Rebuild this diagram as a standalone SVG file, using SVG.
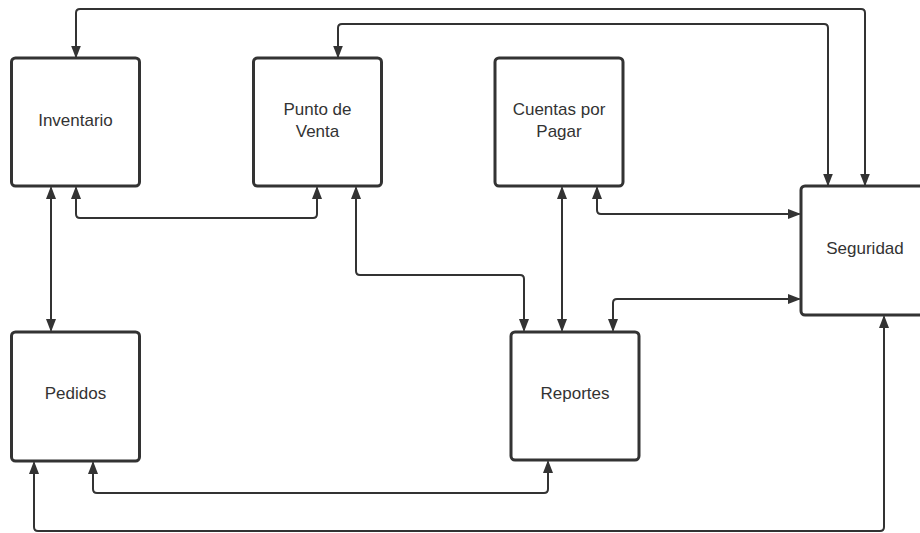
<svg xmlns="http://www.w3.org/2000/svg" width="920" height="533" viewBox="0 0 920 533">
  <defs>
    <style>
      .box { fill: #ffffff; stroke: #333333; stroke-width: 3; }
      .lbl { font-family: "Liberation Sans", Arial, sans-serif; font-size: 17px; fill: #333333; text-anchor: middle; }
      .wire { fill: none; stroke: #333333; stroke-width: 2; marker-start: url(#tip); marker-end: url(#tip); }
    </style>
    <marker id="tip" markerUnits="userSpaceOnUse" markerWidth="13" markerHeight="10" refX="11.5" refY="5" orient="auto-start-reverse" viewBox="0 0 13 10">
      <path d="M0,0 L13,5 L0,10 z" fill="#333333"/>
    </marker>
  </defs>
  <rect width="920" height="533" fill="#ffffff"/>

  <g id="connectors">
    <!-- Inventario <-> Seguridad (top loop) -->
    <path class="wire" d="M76,57 V13 Q76,9 80,9 H861 Q865,9 865,13 V185"/>
    <!-- Punto de Venta <-> Seguridad -->
    <path class="wire" d="M338,57 V28 Q338,24 342,24 H824 Q828,24 828,28 V185"/>
    <!-- Inventario <-> Punto de Venta -->
    <path class="wire" d="M76,187.5 V214 Q76,218 80,218 H313 Q317,218 317,214 V187.5"/>
    <!-- Inventario <-> Pedidos -->
    <path class="wire" d="M51,187.5 V330.5"/>
    <!-- Punto de Venta <-> Reportes -->
    <path class="wire" d="M356,187.5 V271 Q356,275 360,275 H520 Q524,275 524,279 V330.5"/>
    <!-- Cuentas por Pagar <-> Reportes -->
    <path class="wire" d="M562,187.5 V330.5"/>
    <!-- Cuentas por Pagar <-> Seguridad -->
    <path class="wire" d="M597,187.5 V210 Q597,214 601,214 H799.5"/>
    <!-- Reportes <-> Seguridad -->
    <path class="wire" d="M613,330.5 V303 Q613,299 617,299 H799.5"/>
    <!-- Pedidos <-> Reportes -->
    <path class="wire" d="M93,462.5 V489 Q93,493 97,493 H544 Q548,493 548,489 V461.5"/>
    <!-- Pedidos <-> Seguridad (bottom loop) -->
    <path class="wire" d="M34,462.5 V527 Q34,531 38,531 H880 Q884,531 884,527 V316.5"/>
  </g>

  <g id="inventario">
    <rect class="box" x="11.5" y="58" width="128" height="128" rx="4"/>
    <text class="lbl" x="75.5" y="126">Inventario</text>
  </g>
  <g id="punto-de-venta">
    <rect class="box" x="253.5" y="58" width="128" height="128" rx="4"/>
    <text class="lbl" x="317.5" y="115">Punto de</text>
    <text class="lbl" x="317.5" y="137">Venta</text>
  </g>
  <g id="cuentas-por-pagar">
    <rect class="box" x="495" y="58" width="128" height="128" rx="4"/>
    <text class="lbl" x="559" y="115">Cuentas por</text>
    <text class="lbl" x="559" y="137">Pagar</text>
  </g>
  <g id="seguridad">
    <rect class="box" x="801" y="186" width="128" height="129" rx="4"/>
    <text class="lbl" x="865" y="254">Seguridad</text>
  </g>
  <g id="pedidos">
    <rect class="box" x="11.5" y="332" width="128" height="129" rx="4"/>
    <text class="lbl" x="75.5" y="399">Pedidos</text>
  </g>
  <g id="reportes">
    <rect class="box" x="511" y="332" width="128" height="128" rx="4"/>
    <text class="lbl" x="575" y="399">Reportes</text>
  </g>
</svg>
